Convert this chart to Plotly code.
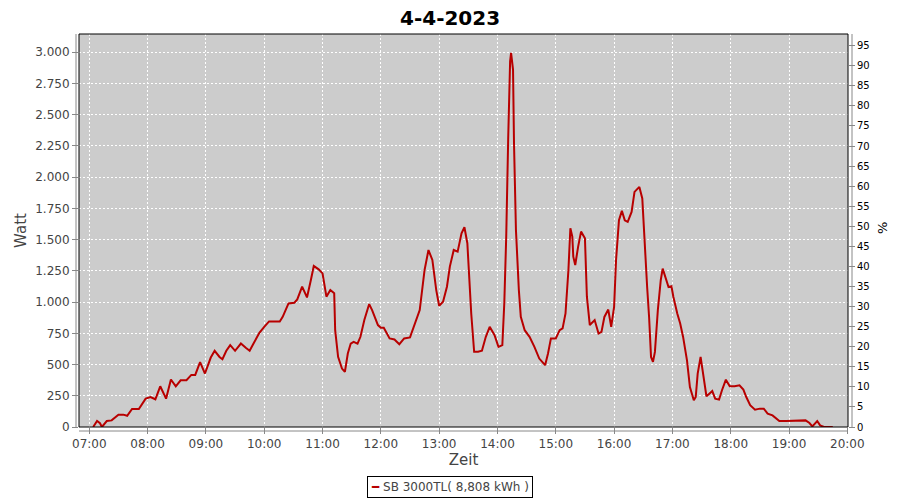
import plotly.graph_objects as go

DAY = "2023-04-04"
times = ["07:04", "07:08", "07:11", "07:13", "07:18", "07:23", "07:30", "07:35", "07:39", "07:44", "07:51",
         "07:58", "08:03", "08:08", "08:13", "08:19", "08:24", "08:29", "08:34", "08:40", "08:45", "08:49",
         "08:54", "08:59", "09:05", "09:09", "09:14", "09:17", "09:21", "09:25", "09:30", "09:36", "09:41",
         "09:45", "09:49", "09:55", "10:00", "10:05", "10:12", "10:16", "10:19", "10:25", "10:31", "10:34",
         "10:39", "10:44", "10:48", "10:51", "10:56", "11:00", "11:04", "11:08", "11:12", "11:13", "11:16",
         "11:20", "11:23", "11:26", "11:29", "11:32", "11:36", "11:39", "11:43", "11:48", "11:51", "11:57",
         "12:00", "12:03", "12:09", "12:14", "12:19", "12:24", "12:30", "12:34", "12:40", "12:45", "12:49",
         "12:53", "12:57", "13:00", "13:04", "13:08", "13:11", "13:15", "13:19", "13:23", "13:26", "13:29",
         "13:33", "13:36", "13:40", "13:44", "13:48", "13:52", "13:57", "14:01", "14:05", "14:07", "14:09",
         "14:11", "14:13", "14:14", "14:16", "14:17", "14:19", "14:22", "14:24", "14:28", "14:33", "14:38",
         "14:43", "14:49", "14:52", "14:55", "15:00", "15:04", "15:07", "15:10", "15:13", "15:15", "15:17",
         "15:18", "15:20", "15:23", "15:26", "15:30", "15:32", "15:35", "15:38", "15:40", "15:44", "15:47",
         "15:50", "15:54", "15:57", "16:00", "16:02", "16:05", "16:08", "16:11", "16:14", "16:18", "16:21",
         "16:26", "16:29", "16:31", "16:34", "16:36", "16:38", "16:40", "16:42", "16:45", "16:48", "16:50",
         "16:53", "16:56", "16:59", "17:01", "17:05", "17:08", "17:11", "17:15", "17:18", "17:22", "17:24",
         "17:26", "17:29", "17:32", "17:35", "17:38", "17:41", "17:44", "17:48", "17:51", "17:55", "17:59",
         "18:04", "18:09", "18:13", "18:16", "18:20", "18:25", "18:30", "18:34", "18:38", "18:43", "18:47",
         "18:50", "18:57", "19:07", "19:17", "19:21", "19:24", "19:29", "19:32", "19:36", "19:45"]
watts = [0, 48, 30, 0, 48, 53, 99, 99, 90, 144, 144,
         227, 240, 222, 326, 227, 380, 326, 374, 374, 417, 417,
         519, 428, 556, 610, 561, 543, 610, 655, 610, 668, 634,
         610, 668, 754, 802, 845, 845, 845, 882, 989, 995, 1021,
         1123, 1037, 1177, 1289, 1262, 1230, 1043, 1096, 1070, 775, 562,
         468, 441, 588, 668, 682, 668, 722, 856, 984, 936, 816,
         794, 794, 709, 701, 663, 709, 717, 802, 936, 1257, 1417,
         1337, 1096, 971, 1003, 1123, 1284, 1417, 1404, 1551, 1599, 1471,
         909, 602, 602, 610, 722, 802, 735, 642, 655, 989, 1524,
         2300, 2928, 2995, 2861, 2273, 1578, 1096, 882, 775, 722, 642,
         548, 495, 588, 709, 709, 775, 789, 909, 1257, 1591, 1524,
         1364, 1297, 1444, 1564, 1511, 1043, 816, 842, 856, 748, 761,
         881, 940, 801, 961, 1335, 1655, 1730, 1655, 1642, 1722, 1882,
         1922, 1829, 1522, 1121, 881, 561, 521, 601, 935, 1175, 1268,
         1202, 1121, 1127, 1041, 908, 828, 721, 534, 320, 214, 240,
         427, 561, 400, 246, 267, 288, 227, 219, 294, 379, 326,
         326, 334, 299, 240, 174, 139, 147, 147, 107, 93, 67,
         48, 48, 48, 53, 32, 5, 48, 13, 0, 0]

y_ticks = list(range(0, 3001, 250))
pct_ticks = list(range(0, 96, 5))
x_ticks = ["%02d:00" % h for h in range(7, 21)]
series_name = "SB 3000TL( 8,808 kWh )"
title_text = "4-4-2023"

xs = [f"{DAY} {t}" for t in times]
RED = "#B80000"
GREY_TXT = "#444444"

# The page body has an 8px margin, so the figure is 892x492 and placed at (8, 8).
W, H = 892, 492
L, T, PW, PH = 71, 26, 769, 393
R, B = W - L - PW, H - T - PH


def px(xp):  # page pixel x -> paper fraction
    return (xp - 8 - L) / PW


def py(yp):  # page pixel y -> paper fraction
    return (T + PH - (yp - 8)) / PH


fig = go.Figure()
fig.add_trace(go.Scatter(x=xs, y=watts, mode="lines", name=series_name,
                         line=dict(color=RED, width=2), showlegend=False))
fig.add_trace(go.Scatter(x=[xs[0]], y=[None], yaxis="y2", mode="lines",
                         showlegend=False, hoverinfo="skip"))

grid = dict(showgrid=True, gridcolor="white", griddash="2px,2px", gridwidth=1)
fig.update_layout(
    width=W, height=H,
    separators=",.",
    paper_bgcolor="white", plot_bgcolor="#CCCCCC",
    margin=dict(l=L, r=R, t=T, b=B, autoexpand=False),
    font=dict(family="DejaVu Sans", color=GREY_TXT),
    xaxis=dict(type="date", range=[f"{DAY} 06:49:25", f"{DAY} 20:00:40"],
               tickvals=[f"{DAY} {t}" for t in x_ticks], ticktext=x_ticks,
               ticks="outside", ticklen=6, tickcolor="#888888", automargin=False,
               tickfont=dict(size=12, color=GREY_TXT), showline=False, zeroline=False,
               title=dict(text="Zeit", font=dict(size=15, color=GREY_TXT), standoff=4), **grid),
    yaxis=dict(range=[0, 3146], tickvals=y_ticks, tickformat=",d", automargin=False,
               ticks="outside", ticklen=6, tickcolor="#888888",
               tickfont=dict(size=12, color=GREY_TXT), showline=False, zeroline=False,
               title=dict(text="Watt", font=dict(size=15, color=GREY_TXT), standoff=4), **grid),
    yaxis2=dict(overlaying="y", side="right", range=[0, 97.9], tickvals=pct_ticks,
                ticks="outside", ticklen=6, tickcolor="#888888", showgrid=False, zeroline=False,
                tickfont=dict(size=10, color="black"), automargin=False),
    showlegend=False,
)

# title
fig.add_annotation(xref="paper", yref="paper", x=px(450), y=py(18), xanchor="center",
                   yanchor="middle", showarrow=False, text=f"<b>{title_text}</b>",
                   font=dict(family="DejaVu Sans", size=20, color="black"))
# right axis title
fig.add_annotation(xref="paper", yref="paper", x=px(882), y=py(228), xanchor="center",
                   yanchor="middle", showarrow=False, text="%", textangle=-90,
                   font=dict(size=13, color="black"))

# plot border (black) and offset grey axis lines (JFreeChart style)
fig.add_shape(type="rect", xref="paper", yref="paper", x0=0, x1=1, y0=0, y1=1,
              line=dict(color="black", width=1))
fig.add_shape(type="line", xref="paper", yref="paper", ysizemode="pixel", yanchor=0,
              x0=0, x1=1, y0=-4, y1=-4, line=dict(color="#888888", width=1))
fig.add_shape(type="line", xref="paper", yref="paper", xsizemode="pixel", xanchor=0,
              x0=-3, x1=-3, y0=0, y1=1, line=dict(color="#888888", width=1))
fig.add_shape(type="line", xref="paper", yref="paper", xsizemode="pixel", xanchor=1,
              x0=4, x1=4, y0=0, y1=1, line=dict(color="#888888", width=1))

# legend box drawn JFreeChart-style (short line sample)
fig.add_annotation(xref="paper", yref="paper", x=px(450), y=py(487),
                   xanchor="center", yanchor="middle", showarrow=False,
                   text=f"<span style='color:{RED}'>━</span> {series_name}",
                   font=dict(size=12, color=GREY_TXT), bordercolor="black", borderwidth=1,
                   borderpad=3, bgcolor="white")

fig.write_html("out.html")
